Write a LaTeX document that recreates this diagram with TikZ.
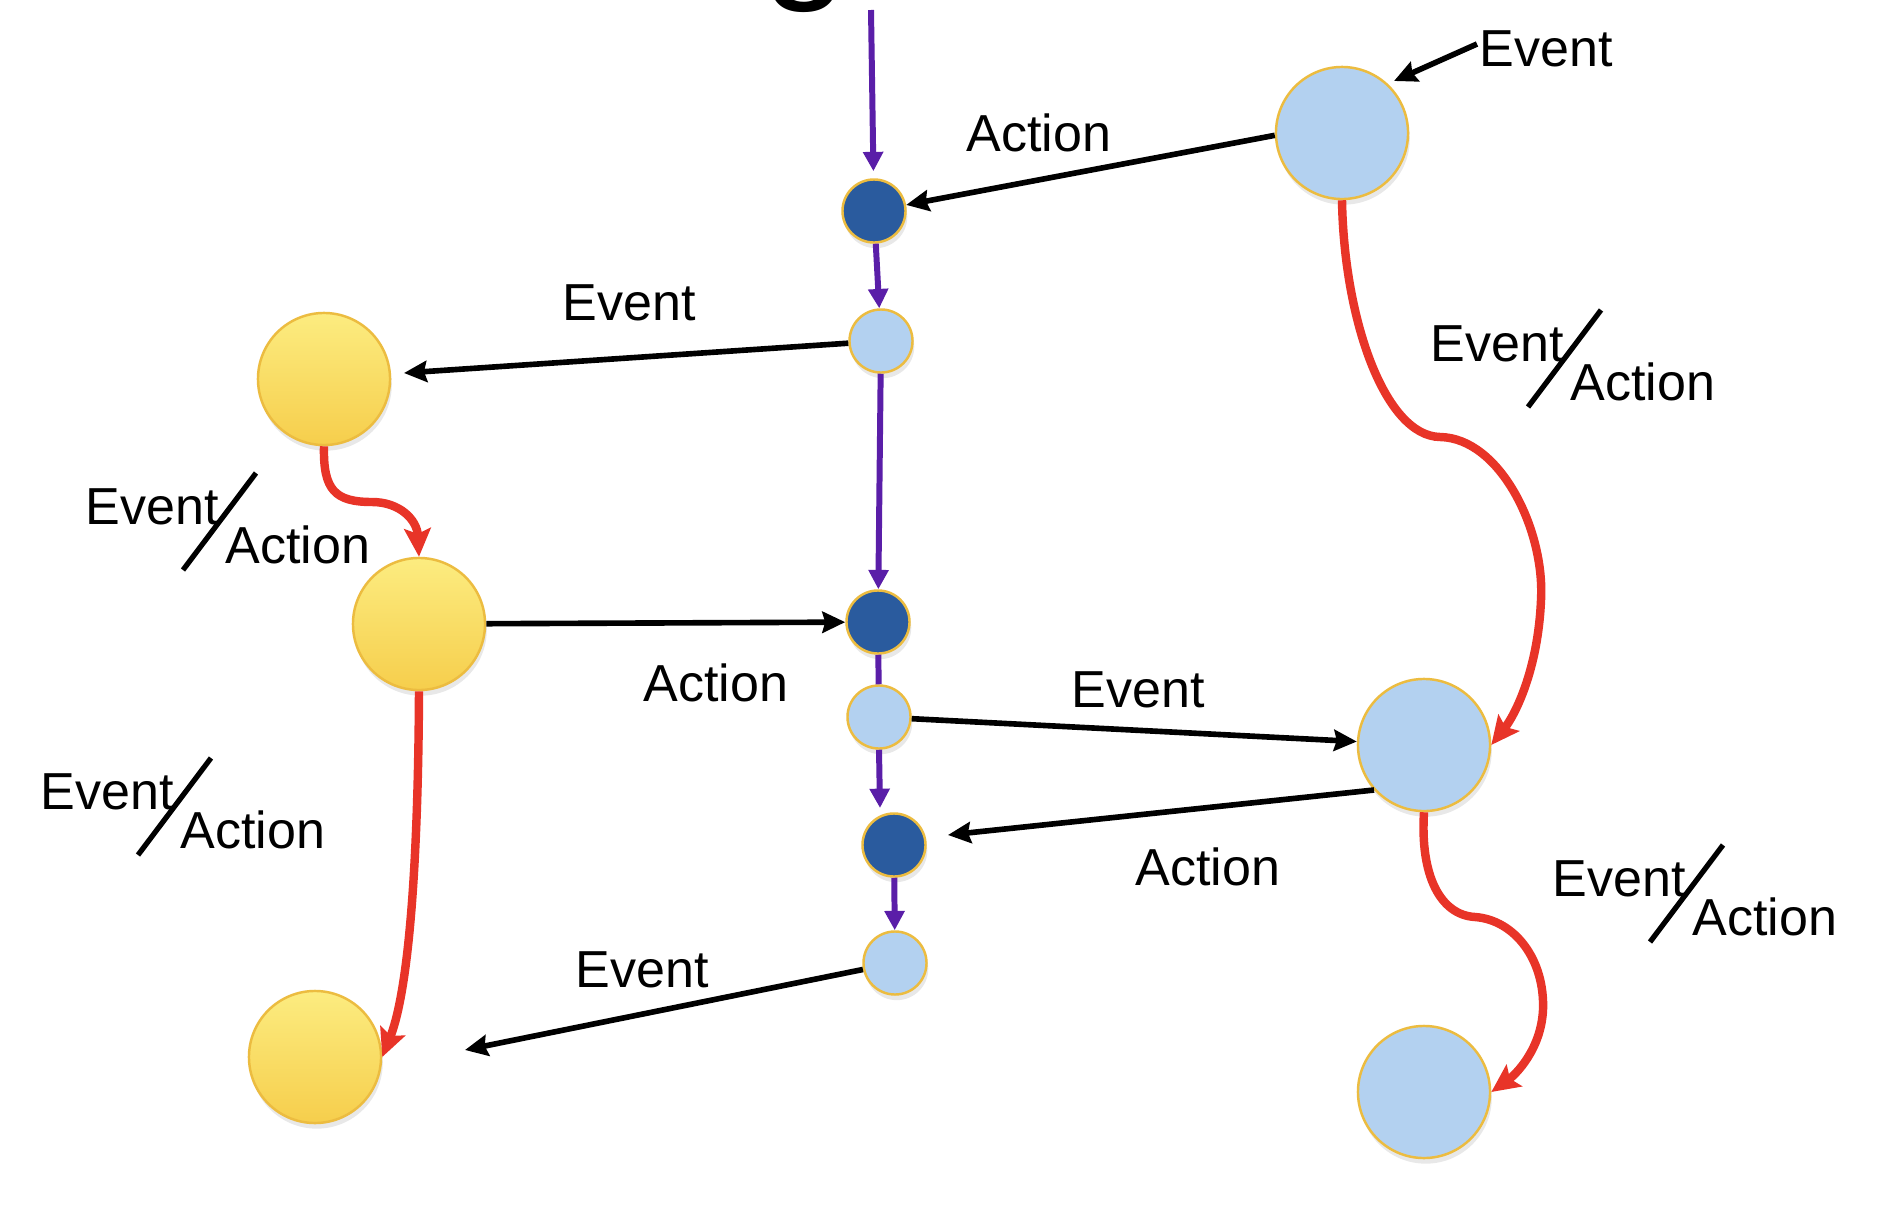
\documentclass[tikz,border=0pt]{standalone}
\usepackage{fontspec}
\setmainfont{Liberation Sans}
\usetikzlibrary{arrows.meta,shadows}
\definecolor{ybtop}{RGB}{252,236,128}
\definecolor{ybbot}{RGB}{246,206,76}
\definecolor{ring}{RGB}{236,188,64}
\definecolor{lblue}{RGB}{179,209,240}
\definecolor{dblue}{RGB}{42,91,158}
\definecolor{purp}{RGB}{90,30,168}
\definecolor{redc}{RGB}{232,52,40}
\newcommand\EAlabel[3]{%
  \node[lbl] (#1e) at (#2,#3) {Event};
  \node[lbl] (#1a) at ([shift={(140,39)}]#1e.base west) {Action};
  \coordinate (#1s) at ([shift={(98,46)}]#1e.base west);
  \coordinate (#1t) at ([shift={(171,-51)}]#1e.base west);
  \draw[slashln] (#1s) -- (#1t);}
\begin{document}
\begin{tikzpicture}[x=0.01cm,y=-0.01cm,
  lbl/.style={anchor=base west, inner sep=0, font=\fontsize{14.8}{16}\selectfont},
  circ/.style={circle, draw=ring, line width=0.7pt, inner sep=0,
    drop shadow={shadow xshift=0.5pt, shadow yshift=-1.6pt, opacity=0.18}},
  big/.style={circ, minimum size=1.32cm},
  small/.style={circ, minimum size=0.63cm},
  yel/.style={big, top color=ybtop, bottom color=ybbot},
  lb/.style={fill=lblue},
  db/.style={fill=dblue},
  blk/.style={line width=1.6pt, -{Stealth[length=6.5pt,width=6pt,inset=0.8pt]}},
  pur/.style={draw=purp, line width=1.7pt, -{Triangle[length=5.5pt,width=5.5pt]}},
  purplain/.style={draw=purp, line width=1.7pt},
  rd/.style={draw=redc, line width=2.4pt, -{Stealth[length=8pt,width=7.5pt,inset=1.5pt]}},
  slashln/.style={line width=1.5pt}]
\useasboundingbox (0,0) rectangle (1878,1206);
\fill[white] (0,0) rectangle (1878,1206);
% cut-off title glyph
\begin{scope}
\clip (0,0) rectangle (1878,1206);
\node[anchor=base west, inner sep=0, font=\fontsize{44}{50}\selectfont] (ttl) at (762,-20) {g};
\end{scope}
% nodes
\node[yel] (Y1) at (324,379) {};
\node[yel] (Y2) at (419,624) {};
\node[yel] (Y3) at (315,1057) {};
\node[big,lb] (B1) at (1342,133) {};
\node[big,lb] (B2) at (1424,745) {};
\node[big,lb] (B3) at (1424,1092) {};
\node[small,db] (D1) at (874,211) {};
\node[small,lb] (L1) at (881,341) {};
\node[small,db] (D2) at (878,622) {};
\node[small,lb] (L2) at (879,717) {};
\node[small,db] (D3) at (894,845) {};
\node[small,lb] (L3) at (895,963) {};
% free ends
\coordinate (top) at (871,10);
\coordinate (d3in) at (880,808);
\coordinate (eT) at (1477,44);
\coordinate (b1in) at (1394,81);
\coordinate (y1in) at (404,373);
\coordinate (d3r) at (948,835);
\coordinate (y3in) at (465,1050);
% purple chain
\draw[pur, shorten >=2pt] (top) -- (D1);
\draw[pur] (D1) -- (L1);
\draw[pur] (L1) -- (D2);
\draw[purplain] (D2) -- (L2);
\draw[pur] (L2.south) -- (d3in);
\draw[pur] (D3) -- (L3);
% black connectors
\draw[blk] (B1.182) -- (D1);
\draw[blk] (eT) -- (b1in);
\draw[blk] (L1) -- (y1in);
\draw[blk] (Y2) -- (D2);
\draw[blk] (L2) -- (B2);
\draw[blk] (B2.222) -- (d3r);
\draw[blk] (L3) -- (y3in);
% red transitions
\draw[rd] (Y1.south) .. controls (323,490) and (335,502) .. (372,502)
  .. controls (400,502) and (417,520) .. (Y2.north);
\draw[rd] (Y2.south) .. controls (418,900) and (405,1000) .. (Y3.east);
\draw[rd] (B1.south) .. controls (1344,320) and (1385,436) .. (1440,437)
  .. controls (1500,438) and (1545,530) .. (1541,600)
  .. controls (1538,670) and (1515,715) .. (B2.east);
\draw[rd] (B2.south) .. controls (1420,875) and (1440,915) .. (1475,917)
  .. controls (1515,920) and (1545,960) .. (1543,1010)
  .. controls (1541,1050) and (1515,1075) .. (B3.east);
% labels
\node[lbl] (evtTop) at (1479,67) {Event};
\node[lbl] (actTop) at (966,151) {Action};
\node[lbl] (evtY1) at (562,320) {Event};
\node[lbl] (actY2) at (643,701) {Action};
\node[lbl] (evtMid) at (1071,707) {Event};
\node[lbl] (actMid) at (1135,885) {Action};
\node[lbl] (evtBot) at (575,987) {Event};
\EAlabel{ea1}{85}{524}
\EAlabel{ea2}{40}{809}
\EAlabel{ea3}{1430}{361}
\EAlabel{ea4}{1552}{896}
\end{tikzpicture}
\end{document}
